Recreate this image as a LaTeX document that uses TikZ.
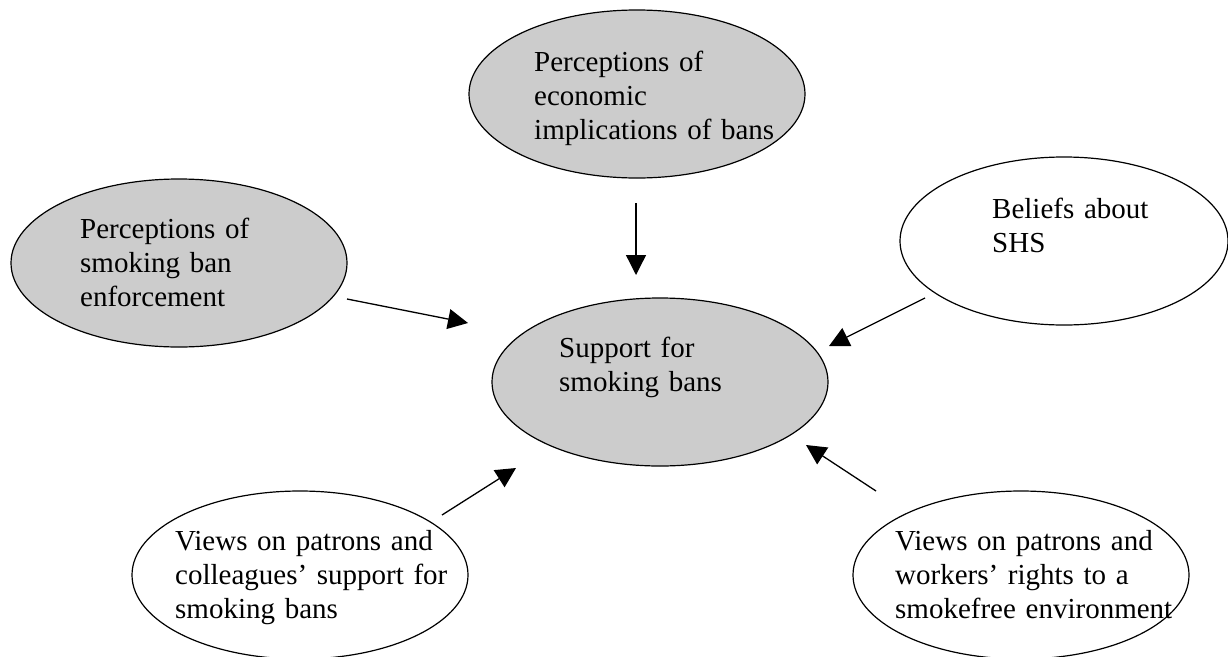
\documentclass[tikz,border=0pt]{standalone}
\usepackage{fontspec}
\setmainfont{Liberation Serif}
\usetikzlibrary{shapes.geometric,arrows.meta}
\definecolor{ellgray}{RGB}{204,204,204}
\tikzset{
  ell/.style={ellipse,draw=black,line width=1.2pt,minimum width=336pt,minimum height=168pt,inner sep=0pt},
  grayell/.style={ell,fill=ellgray},
  whiteell/.style={ell,fill=white},
  lbl/.style={anchor=base west,align=left,text width=300pt,inner sep=0pt,font=\fontsize{29}{34}\selectfont},
  arr/.style={line width=1.3pt,-{Triangle[length=20pt,width=20pt]}}
}
\begin{document}
\begin{tikzpicture}[x=1pt,y=-1pt]
\useasboundingbox (0,0) rectangle (1228,656);
% ellipses
\node[grayell] (econ) at (637,94) {};
\node[grayell] (enf) at (179,263) {};
\node[whiteell,minimum width=328pt] (shs) at (1064,241) {};
\node[grayell] (sup) at (660,382) {};
\node[whiteell] (coll) at (300,575) {};
\node[whiteell] (work) at (1021,575) {};
% texts
\node[lbl] (econt) at (534,71) {Perceptions of\\economic\\implications of bans};
\node[lbl] (enft) at (80,238) {Perceptions of\\smoking ban\\enforcement};
\node[lbl] (shst) at (992,218) {Beliefs about\\SHS};
\node[lbl] (supt) at (559,357) {Support for\\smoking bans};
\node[lbl] (collt) at (175,550) {Views on patrons and\\colleagues’ support for\\smoking bans};
\node[lbl] (workt) at (895,550) {Views on patrons and\\workers’ rights to a\\smokefree environment};
% arrow end points
\coordinate (a1s) at (636,203); \coordinate (a1e) at (636,275);
\coordinate (a2s) at (347,299); \coordinate (a2e) at (468,323);
\coordinate (a3s) at (925,298); \coordinate (a3e) at (829,346);
\coordinate (a4s) at (442,515); \coordinate (a4e) at (516,468);
\coordinate (a5s) at (876,491); \coordinate (a5e) at (806,445);
\draw[arr] (a1s) -- (a1e);
\draw[arr] (a2s) -- (a2e);
\draw[arr] (a3s) -- (a3e);
\draw[arr] (a4s) -- (a4e);
\draw[arr] (a5s) -- (a5e);
\end{tikzpicture}
\end{document}
